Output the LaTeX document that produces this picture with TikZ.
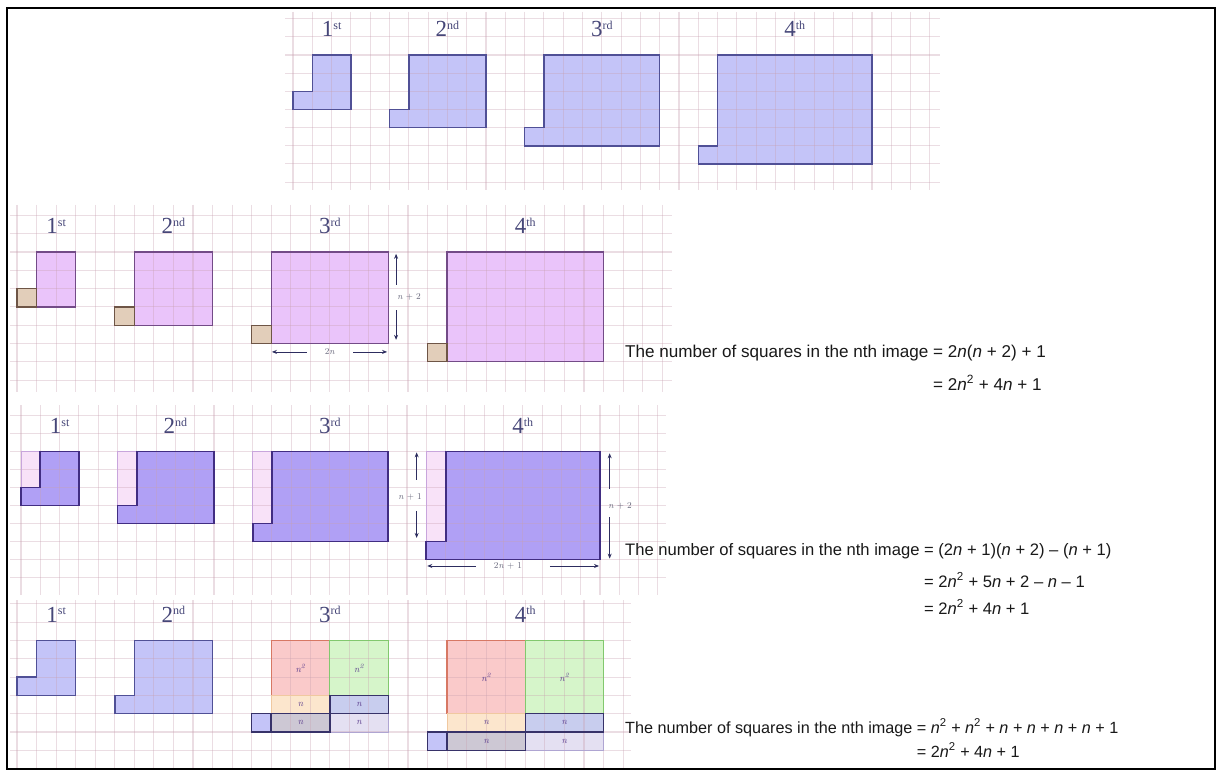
\documentclass[tikz,border=0pt]{standalone}
\usepackage{fontspec}
\newfontfamily\eqfont{Liberation Sans}
\newfontfamily\ordfont{Liberation Serif}
\usetikzlibrary{arrows.meta}
\definecolor{gridc}{RGB}{200,160,175}
\definecolor{blueF}{RGB}{196,196,248}
\definecolor{blueD}{RGB}{80,80,150}
\definecolor{pinkF}{RGB}{234,196,250}
\definecolor{pinkD}{RGB}{115,75,135}
\definecolor{tanF}{RGB}{226,206,186}
\definecolor{tanD}{RGB}{110,85,70}
\definecolor{purF}{RGB}{176,160,245}
\definecolor{purD}{RGB}{65,45,130}
\definecolor{colF}{RGB}{248,226,248}
\definecolor{colD}{RGB}{200,165,220}
\definecolor{redF}{RGB}{250,202,202}
\definecolor{redD}{RGB}{215,120,100}
\definecolor{grnF}{RGB}{214,245,202}
\definecolor{grnD}{RGB}{130,200,110}
\definecolor{pchF}{RGB}{252,230,205}
\definecolor{pchD}{RGB}{240,200,160}
\definecolor{nbF}{RGB}{200,205,238}
\definecolor{ngF}{RGB}{205,200,212}
\definecolor{nlF}{RGB}{228,224,242}
\definecolor{nlD}{RGB}{175,165,210}
\definecolor{darkD}{RGB}{55,50,105}
\definecolor{lblc}{RGB}{70,70,120}
\definecolor{arrc}{RGB}{45,45,95}
\definecolor{alblc}{RGB}{105,105,125}
\definecolor{nlblc}{RGB}{90,60,140}
\definecolor{txtc}{RGB}{25,25,25}
\newcommand\ordl[2]{{\ordfont\fontsize{23}{23}\selectfont #1}\raisebox{7.5pt}{\ordfont\fontsize{12}{12}\selectfont #2}}
\newcommand\nI{\textit{n}}
\newcommand\nSq{\textit{n}\textsuperscript{2}}
\newcommand\mD{\textendash}
\begin{document}
\begin{tikzpicture}[x=1pt,y=-1pt,
  gridline/.style={draw=gridc, line width=1.1pt, draw opacity=0.35},
  outA/.style={draw=blueD, line width=1.5pt},
  outB/.style={draw=pinkD, line width=1.3pt},
  outT/.style={draw=tanD, line width=1.3pt},
  outC/.style={draw=purD, line width=1.8pt},
  outCol/.style={draw=colD, line width=1pt},
  outDark/.style={draw=darkD, line width=1.5pt},
  ordlbl/.style={text=lblc, anchor=base, inner sep=0pt},
  albl/.style={text=alblc, inner sep=0pt, font=\fontsize{9}{9}\selectfont},
  nlbl/.style={text=nlblc, inner sep=0pt, font=\fontsize{9.5}{9.5}\selectfont\itshape},
  dimS/.style={draw=arrc, line width=0.8pt, arrows={Stealth[length=5pt,width=4pt]-}},
  dimE/.style={draw=arrc, line width=0.8pt, arrows={-Stealth[length=5pt,width=4pt]}},
  eqA/.style={text=txtc, anchor=base west, inner sep=0pt, font={\eqfont\fontsize{17.1}{20}\selectfont}},
  eqB/.style={text=txtc, anchor=base west, inner sep=0pt, font={\eqfont\fontsize{16.6}{20}\selectfont}},
  eqC/.style={text=txtc, anchor=base west, inner sep=0pt, font={\eqfont\fontsize{16.2}{20}\selectfont}}]
\useasboundingbox (0,0) rectangle (1222,776);
\fill[white] (0,0) rectangle (1222,776);

% ---------------- Panel 1 ----------------
\begin{scope}[shift={(293,55)},x=19.3pt,y=-18.15pt]
  \foreach \q/\s in {1/0,2/5,3/12,4/21}
    \fill[blueF] ({\s+1},0) -- ({\s+1+2*\q},0) -- ({\s+1+2*\q},\q+2) -- (\s,\q+2) -- (\s,\q+1) -- ({\s+1},\q+1) -- cycle;
  \foreach \k in {0,...,33} \draw[gridline] (\k,-2.37) -- (\k,7.44);
  \foreach \k in {-2,...,7} \draw[gridline] (-0.41,\k) -- (33.5,\k);
  \foreach \q/\s in {1/0,2/5,3/12,4/21}
    \draw[outA] ({\s+1},0) -- ({\s+1+2*\q},0) -- ({\s+1+2*\q},\q+2) -- (\s,\q+2) -- (\s,\q+1) -- ({\s+1},\q+1) -- cycle;
  \node[ordlbl] (p1o1) at (2,-1) {\ordl{1}{st}};
  \node[ordlbl] (p1o2) at (8,-1) {\ordl{2}{nd}};
  \node[ordlbl] (p1o3) at (16,-1) {\ordl{3}{rd}};
  \node[ordlbl] (p1o4) at (26,-1) {\ordl{4}{th}};
\end{scope}

% ---------------- Panel 2 ----------------
\begin{scope}[shift={(17,252)},x=19.55pt,y=-18.3pt]
  \foreach \q/\s in {1/0,2/5,3/12,4/21}{
    \fill[pinkF] ({\s+1},0) rectangle ({\s+1+2*\q},\q+2);
    \fill[tanF] (\s,\q+1) rectangle ({\s+1},\q+2);
  }
  \foreach \k in {0,...,33} \draw[gridline] (\k,-2.57) -- (\k,7.65);
  \foreach \k in {-2,...,7} \draw[gridline] (-0.36,\k) -- (33.5,\k);
  \foreach \q/\s in {1/0,2/5,3/12,4/21}{
    \draw[outB] ({\s+1},0) rectangle ({\s+1+2*\q},\q+2);
    \draw[outT] (\s,\q+1) rectangle ({\s+1},\q+2);
  }
  \node[ordlbl] (p2o1) at (2,-1) {\ordl{1}{st}};
  \node[ordlbl] (p2o2) at (8,-1) {\ordl{2}{nd}};
  \node[ordlbl] (p2o3) at (16,-1) {\ordl{3}{rd}};
  \node[ordlbl] (p2o4) at (26,-1) {\ordl{4}{th}};
  \draw[dimS] (19.39,0.1) -- (19.39,1.8);
  \draw[dimE] (19.39,3.17) -- (19.39,4.8);
  \node[albl] (p2h) at (20.05,2.46) {\nI{} + 2};
  \draw[dimS] (13.04,5.46) -- (14.83,5.46);
  \draw[dimE] (17.19,5.46) -- (18.93,5.46);
  \node[albl] (p2w) at (16,5.46) {2\nI};
\end{scope}

% ---------------- Panel 3 ----------------
\begin{scope}[shift={(21,451.5)},x=19.3pt,y=-18pt]
  \foreach \q/\s in {1/0,2/5,3/12,4/21}{
    \fill[purF] (\s,0) rectangle ({\s+1+2*\q},\q+2);
    \fill[colF] (\s,0) rectangle ({\s+1},\q+1);
  }
  \foreach \k in {0,...,33} \draw[gridline] (\k,-2.58) -- (\k,7.97);
  \foreach \k in {-2,...,7} \draw[gridline] (-0.57,\k) -- (33.4,\k);
  \foreach \q/\s in {1/0,2/5,3/12,4/21}{
    \draw[outCol] (\s,0) rectangle ({\s+1},\q+1);
    \draw[outC] ({\s+1},0) -- ({\s+1+2*\q},0) -- ({\s+1+2*\q},\q+2) -- (\s,\q+2) -- (\s,\q+1) -- ({\s+1},\q+1) -- cycle;
  }
  \node[ordlbl] (p3o1) at (2,-1) {\ordl{1}{st}};
  \node[ordlbl] (p3o2) at (8,-1) {\ordl{2}{nd}};
  \node[ordlbl] (p3o3) at (16,-1) {\ordl{3}{rd}};
  \node[ordlbl] (p3o4) at (26,-1) {\ordl{4}{th}};
  \draw[dimS] (20.5,0.05) -- (20.5,1.6);
  \draw[dimE] (20.5,3.3) -- (20.5,4.8);
  \node[albl] (p3h1) at (20.16,2.5) {\nI{} + 1};
  \draw[dimS] (30.5,0.1) -- (30.5,2.1);
  \draw[dimE] (30.5,3.65) -- (30.5,5.95);
  \node[albl] (p3h2) at (31.04,3.0) {\nI{} + 2};
  \draw[dimS] (21.05,6.36) -- (23.6,6.36);
  \draw[dimE] (27.4,6.36) -- (29.95,6.36);
  \node[albl] (p3w) at (25.23,6.36) {2\nI{} + 1};
\end{scope}

% ---------------- Panel 4 ----------------
\begin{scope}[shift={(17,640.5)},x=19.55pt,y=-18.3pt]
  \foreach \q/\s in {1/0,2/5}
    \fill[blueF] ({\s+1},0) -- ({\s+1+2*\q},0) -- ({\s+1+2*\q},\q+2) -- (\s,\q+2) -- (\s,\q+1) -- ({\s+1},\q+1) -- cycle;
  \foreach \q/\s in {3/12,4/21}{
    \fill[redF] ({\s+1},0) rectangle ({\s+1+\q},\q);
    \fill[grnF] ({\s+1+\q},0) rectangle ({\s+1+2*\q},\q);
    \fill[pchF] ({\s+1},\q) rectangle ({\s+1+\q},\q+1);
    \fill[nbF] ({\s+1+\q},\q) rectangle ({\s+1+2*\q},\q+1);
    \fill[ngF] ({\s+1},\q+1) rectangle ({\s+1+\q},\q+2);
    \fill[nlF] ({\s+1+\q},\q+1) rectangle ({\s+1+2*\q},\q+2);
    \fill[blueF] (\s,\q+1) rectangle ({\s+1},\q+2);
  }
  \foreach \k in {0,...,31} \draw[gridline] (\k,-2.2) -- (\k,7.1);
  \foreach \k in {-2,...,7} \draw[gridline] (-0.36,\k) -- (31.4,\k);
  \foreach \q/\s in {1/0,2/5}
    \draw[outA] ({\s+1},0) -- ({\s+1+2*\q},0) -- ({\s+1+2*\q},\q+2) -- (\s,\q+2) -- (\s,\q+1) -- ({\s+1},\q+1) -- cycle;
  \foreach \q/\s in {3/12,4/21}{
    \draw[draw=redD, line width=1.3pt] ({\s+1},0) rectangle ({\s+1+\q},\q);
    \draw[draw=grnD, line width=1.3pt] ({\s+1+\q},0) rectangle ({\s+1+2*\q},\q);
    \draw[draw=pchD, line width=1pt] ({\s+1},\q) rectangle ({\s+1+\q},\q+1);
    \draw[draw=nlD, line width=1pt] ({\s+1+\q},\q+1) rectangle ({\s+1+2*\q},\q+2);
    \draw[outDark] ({\s+1+\q},\q) rectangle ({\s+1+2*\q},\q+1);
    \draw[outDark] ({\s+1},\q+1) rectangle ({\s+1+\q},\q+2);
    \draw[outDark] (\s,\q+1) rectangle ({\s+1},\q+2);
    \node[nlbl] (p4r\q) at ({\s+1+\q/2},\q/2) {n\textsuperscript{2}};
    \node[nlbl] (p4g\q) at ({\s+1+1.5*\q},\q/2) {n\textsuperscript{2}};
    \node[nlbl] (p4a\q) at ({\s+1+\q/2},\q+0.5) {n};
    \node[nlbl] (p4b\q) at ({\s+1+1.5*\q},\q+0.5) {n};
    \node[nlbl] (p4c\q) at ({\s+1+\q/2},\q+1.5) {n};
    \node[nlbl] (p4d\q) at ({\s+1+1.5*\q},\q+1.5) {n};
  }
  \node[ordlbl] (p4o1) at (2,-1) {\ordl{1}{st}};
  \node[ordlbl] (p4o2) at (8,-1) {\ordl{2}{nd}};
  \node[ordlbl] (p4o3) at (16,-1) {\ordl{3}{rd}};
  \node[ordlbl] (p4o4) at (26,-1) {\ordl{4}{th}};
\end{scope}

% ---------------- Equations ----------------
\node[eqA] (e1a) at (625,357) {The number of squares in the nth image = 2\nI(\nI{} + 2) + 1};
\node[eqA] (e1b) at (625,390) {\phantom{The number of squares in the nth image }= 2\nSq{} + 4\nI{} + 1};

\node[eqB] (e2a) at (625,555) {The number of squares in the nth image = (2\nI{} + 1)(\nI{} + 2) \mD{} (\nI{} + 1)};
\node[eqB] (e2b) at (625,587) {\phantom{The number of squares in the nth image }= 2\nSq{} + 5\nI{} + 2 \mD{} \nI{} \mD{} 1};
\node[eqB] (e2c) at (625,614) {\phantom{The number of squares in the nth image }= 2\nSq{} + 4\nI{} + 1};

\node[eqC] (e3a) at (625,733) {The number of squares in the nth image = \nSq{} + \nSq{} + \nI{} + \nI{} + \nI{} + \nI{} + 1};
\node[eqC] (e3b) at (625,757) {\phantom{The number of squares in the nth image }= 2\nSq{} + 4\nI{} + 1};

% frame
\draw[line width=2pt] (7,8) rectangle (1215,769);
\end{tikzpicture}
\end{document}
